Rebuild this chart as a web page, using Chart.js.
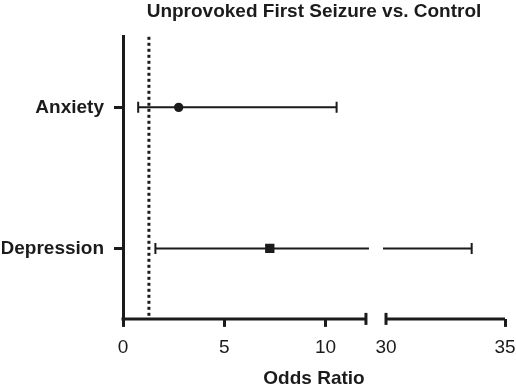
<!DOCTYPE html>
<html lang="en">
<head>
    <meta charset="UTF-8">
    <title>Unprovoked First Seizure vs. Control</title>
    <script src="https://cdn.jsdelivr.net/npm/chart.js"></script>
    <style>
        body {
            margin: 0;
            background-color: #fff;
        }
        .wrap {
            width: 516px;
            height: 388px;
        }
    </style>
</head>
<body>

<div class="wrap">
    <canvas id="forest" width="516" height="388"></canvas>
</div>

<script>
const categories = ['Anxiety', 'Depression'];
const oddsRatio = [2.75, 7.25];
const ciLower = [0.75, 1.6];
const ciUpper = [10.55, 33.6];
const pointStyles = ['circle', 'rect'];
const referenceOR = 1.28;
const xTickValues = [0, 5, 10, 12, 30, 35];
const xTickLabels = ['0', '5', '10', '', '30', '35'];

// axis break: 0-12 on the left, 30-35 on the right
const BREAK_LO = 12;
const BREAK_HI = 30;
const FRAC_LO = 0.636;
const FRAC_HI = 0.6885;

const INK = '#1b1b1b';
const FONT = "'Liberation Sans', Arial, Helvetica, sans-serif";

class BrokenLinearScale extends Chart.LinearScale {
    getPixelForValue(value) {
        if (value === null || value === undefined) return NaN;
        let f;
        if (value <= BREAK_LO) {
            f = (value - this.min) / (BREAK_LO - this.min) * FRAC_LO;
        } else if (value >= BREAK_HI) {
            f = FRAC_HI + (value - BREAK_HI) / (this.max - BREAK_HI) * (1 - FRAC_HI);
        } else {
            f = FRAC_LO + (value - BREAK_LO) / (BREAK_HI - BREAK_LO) * (FRAC_HI - FRAC_LO);
        }
        return this.left + f * this.width;
    }
}
BrokenLinearScale.id = 'brokenLinear';
BrokenLinearScale.defaults = Chart.LinearScale.defaults;
Chart.register(BrokenLinearScale);

const forestPlugin = {
    id: 'forestPlugin',
    beforeDatasetsDraw(chart) {
        const {ctx, chartArea, scales: {x, y}} = chart;
        ctx.save();
        ctx.strokeStyle = INK;

        // dotted line of no effect
        const rx = x.getPixelForValue(referenceOR);
        ctx.lineWidth = 3;
        ctx.setLineDash([3, 3]);
        ctx.beginPath();
        ctx.moveTo(rx, chartArea.top);
        ctx.lineTo(rx, chartArea.bottom);
        ctx.stroke();
        ctx.setLineDash([]);

        // broken x axis line
        const yb = chartArea.bottom;
        ctx.lineWidth = 3;
        ctx.beginPath();
        ctx.moveTo(x.getPixelForValue(0) - 1.5, yb);
        ctx.lineTo(x.getPixelForValue(BREAK_LO), yb);
        ctx.moveTo(x.getPixelForValue(BREAK_HI), yb);
        ctx.lineTo(x.getPixelForValue(35), yb);
        ctx.stroke();
        [BREAK_LO, BREAK_HI].forEach(v => {
            const px = x.getPixelForValue(v);
            ctx.beginPath();
            ctx.moveTo(px, yb - 6);
            ctx.lineTo(px, yb + 6);
            ctx.stroke();
        });

        // confidence intervals
        ctx.lineWidth = 2;
        categories.forEach((c, i) => {
            const py = y.getPixelForValue(i);
            const lo = ciLower[i], hi = ciUpper[i];
            ctx.beginPath();
            if (lo < BREAK_LO && hi > BREAK_HI) {
                ctx.moveTo(x.getPixelForValue(lo), py);
                ctx.lineTo(x.getPixelForValue(BREAK_LO) + 3, py);
                ctx.moveTo(x.getPixelForValue(BREAK_HI) - 3, py);
                ctx.lineTo(x.getPixelForValue(hi), py);
            } else {
                ctx.moveTo(x.getPixelForValue(lo), py);
                ctx.lineTo(x.getPixelForValue(hi), py);
            }
            [lo, hi].forEach(v => {
                const px = x.getPixelForValue(v);
                ctx.moveTo(px, py - 5.5);
                ctx.lineTo(px, py + 5.5);
            });
            ctx.stroke();
        });
        ctx.restore();
    }
};

new Chart(document.getElementById('forest'), {
    type: 'scatter',
    data: {
        datasets: [{
            data: categories.map((c, i) => ({x: oddsRatio[i], y: c})),
            pointStyle: pointStyles,
            pointRadius: [4.7, 6.6],
            backgroundColor: INK,
            borderColor: INK,
            borderWidth: 0
        }]
    },
    options: {
        responsive: false,
        animation: false,
        events: [],
        layout: {padding: {left: 2, right: 0, top: 0, bottom: 0}},
        scales: {
            x: {
                type: 'brokenLinear',
                min: 0,
                max: 35,
                afterBuildTicks: scale => {
                    scale.ticks = xTickValues.map(v => ({value: v}));
                },
                afterFit: scale => {
                    scale.paddingRight = 11;
                },
                ticks: {
                    autoSkip: false,
                    maxRotation: 0,
                    padding: 9,
                    color: INK,
                    font: {family: FONT, size: 19},
                    callback: (value, index) => xTickLabels[index]
                },
                grid: {
                    display: true,
                    drawOnChartArea: false,
                    drawTicks: true,
                    tickLength: 8,
                    lineWidth: 3,
                    color: ctx => (ctx.tick && (ctx.tick.value === BREAK_LO || ctx.tick.value === BREAK_HI)) ? 'rgba(0,0,0,0)' : INK
                },
                border: {display: false},
                title: {
                    display: true,
                    text: 'Odds Ratio',
                    color: INK,
                    font: {family: FONT, size: 19, weight: 'bold'},
                    padding: {top: 0, bottom: -2.5}
                }
            },
            y: {
                type: 'category',
                labels: categories,
                offset: true,
                afterFit: scale => {
                    scale.width = 121;
                },
                ticks: {
                    padding: 10,
                    color: INK,
                    font: {family: FONT, size: 19, weight: 'bold'}
                },
                grid: {
                    display: true,
                    offset: false,
                    drawOnChartArea: false,
                    drawTicks: true,
                    tickLength: 9,
                    lineWidth: 3,
                    color: INK
                },
                border: {display: true, color: INK, width: 3}
            }
        },
        plugins: {
            legend: {display: false},
            tooltip: {enabled: false},
            title: {
                display: true,
                fullSize: false,
                text: 'Unprovoked First Seizure vs. Control',
                color: INK,
                font: {family: FONT, size: 19, weight: 'bold'},
                padding: {top: 0, bottom: 14}
            }
        }
    },
    plugins: [forestPlugin]
});
</script>

</body>
</html>
